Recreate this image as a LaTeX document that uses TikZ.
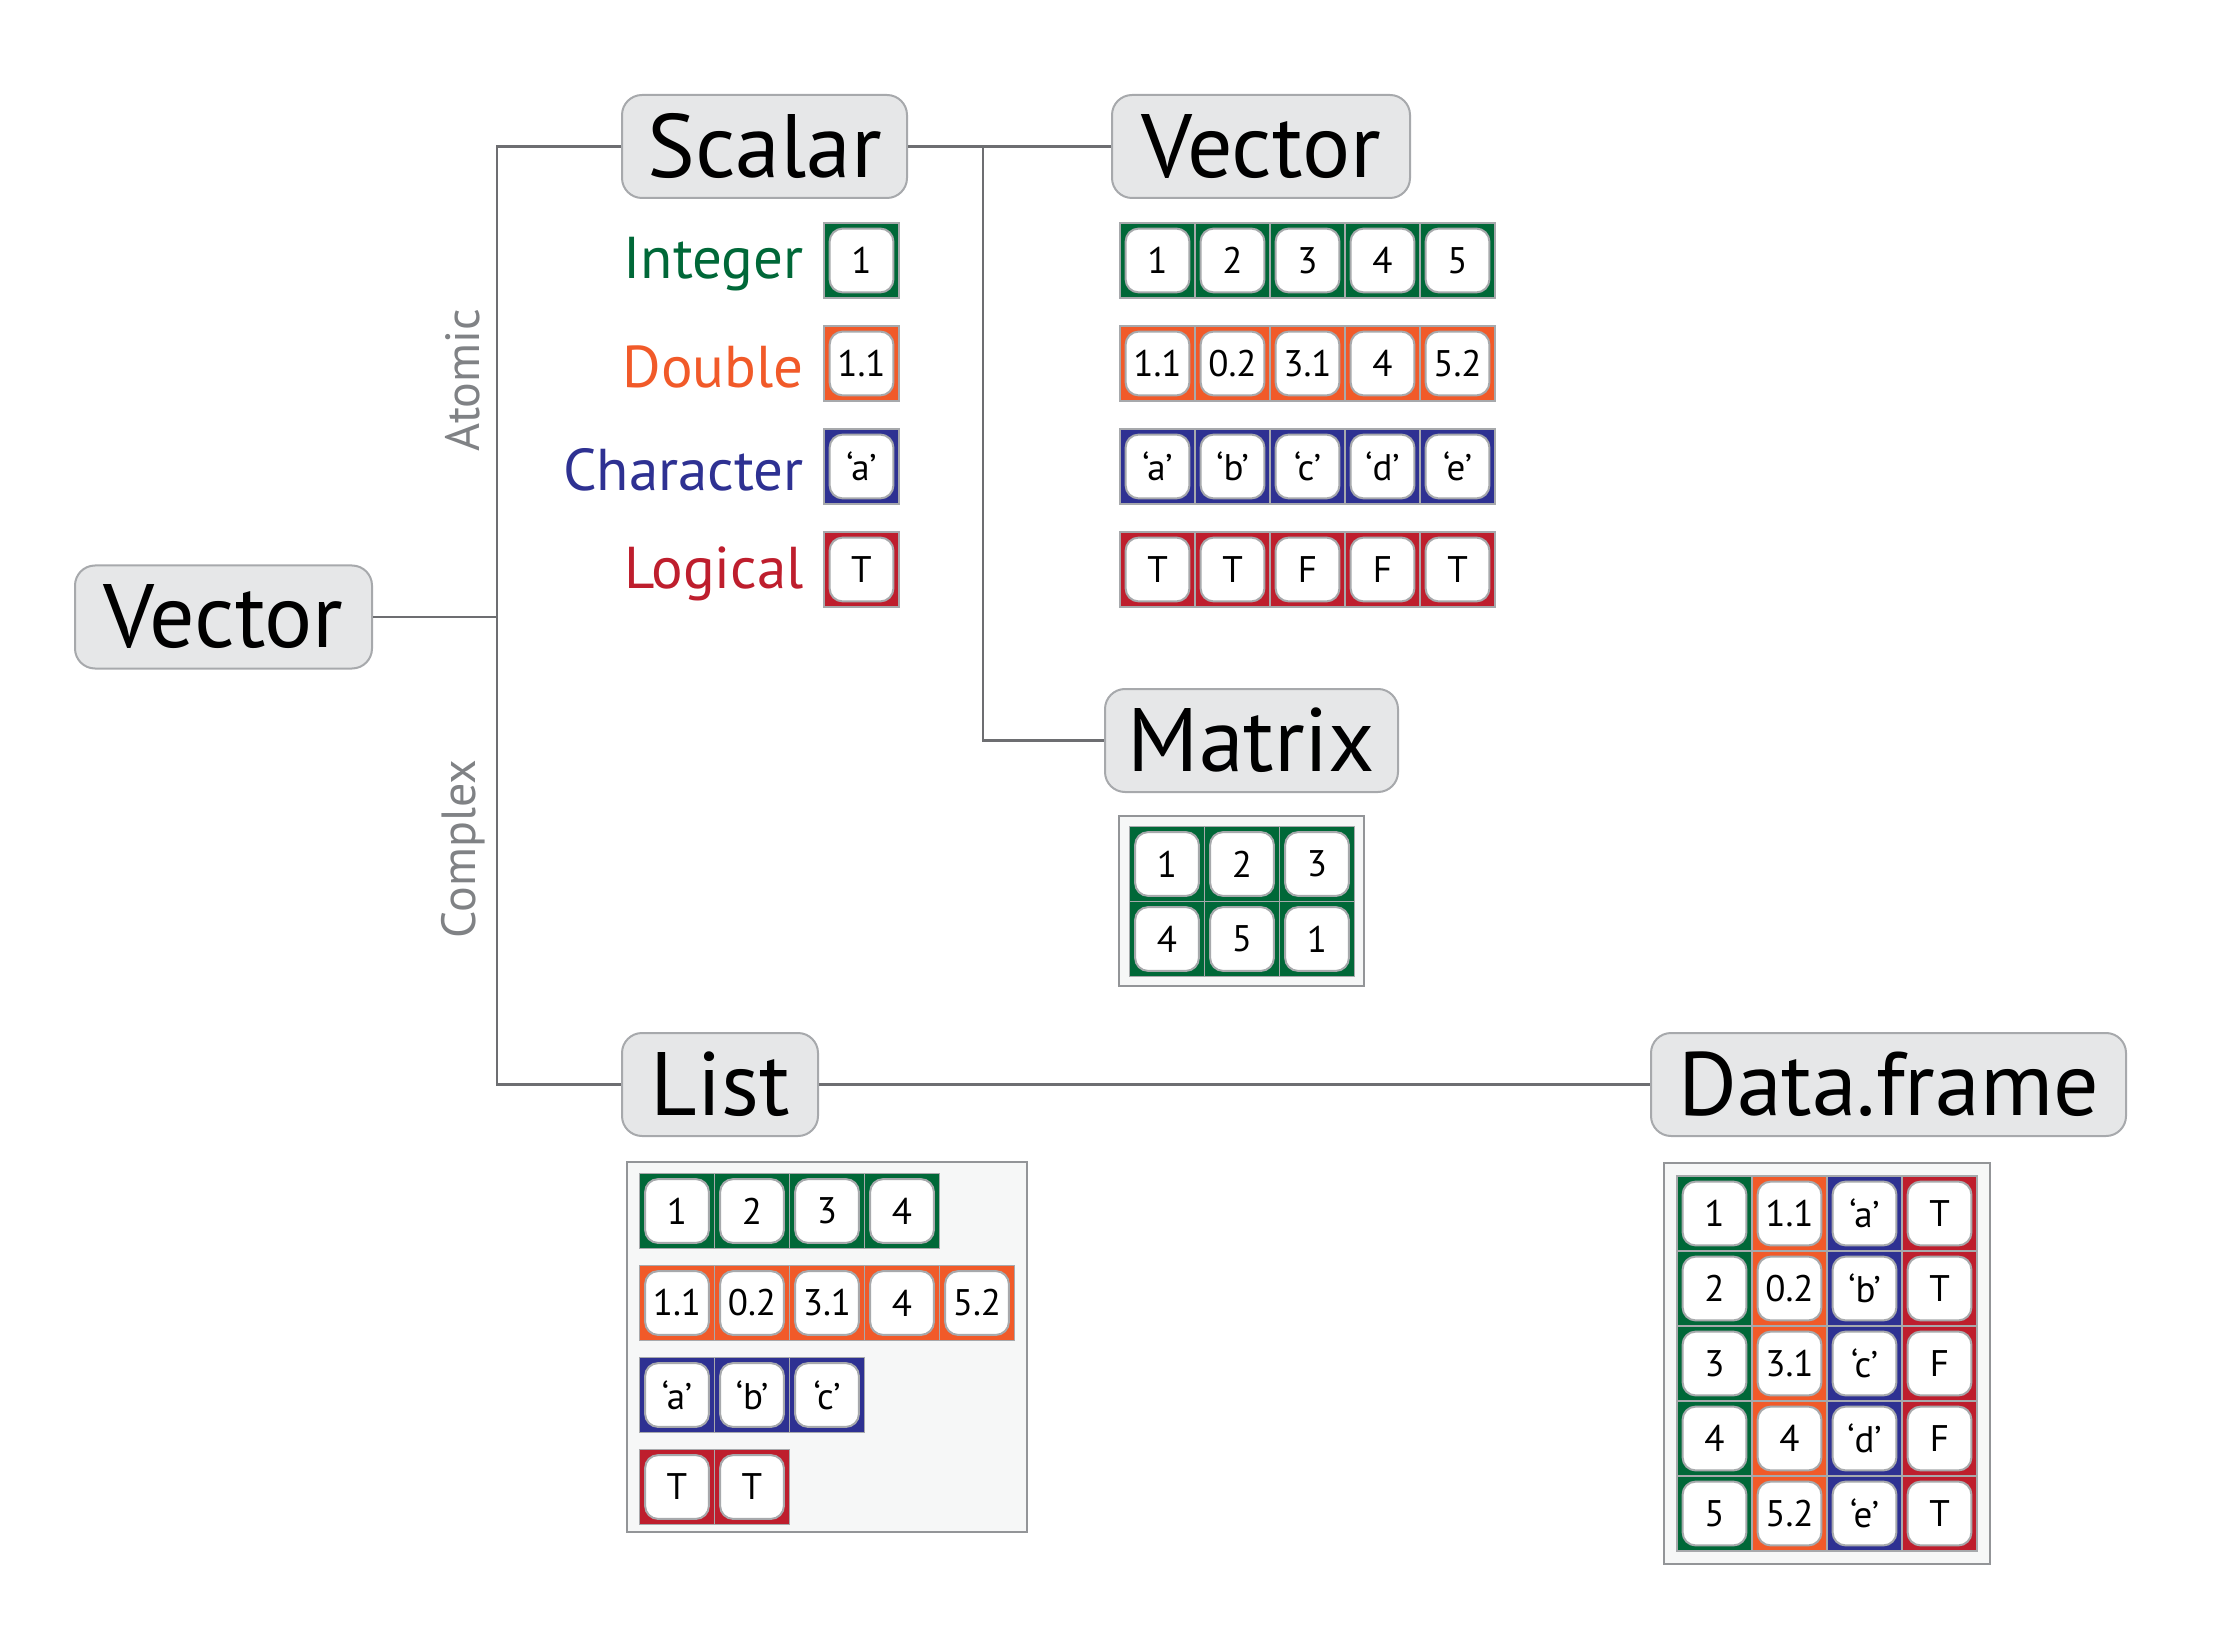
\documentclass[tikz,border=0pt]{standalone}
\usepackage{fontspec}
\setmainfont{PT Sans}
\definecolor{cgreen}{RGB}{0,104,56}
\definecolor{corange}{RGB}{241,90,41}
\definecolor{cblue}{RGB}{46,49,146}
\definecolor{cred}{RGB}{190,30,45}
\definecolor{hdrfill}{RGB}{230,231,232}
\definecolor{hdrline}{RGB}{167,169,172}
\definecolor{conn}{RGB}{109,110,113}
\definecolor{sidegray}{RGB}{128,130,133}
\definecolor{framefill}{RGB}{246,247,247}
\definecolor{frameline}{RGB}{147,149,152}
\definecolor{cellline}{RGB}{167,169,172}
\newcommand\HdrFont{\fontsize{45}{45}\selectfont}
\newcommand\TypeFont{\fontsize{29.5}{29.5}\selectfont}
\newcommand\CellFont{\fontsize{18.5}{18.5}\selectfont}
\newcommand\SideFont{\fontsize{24}{24}\selectfont}
\tikzset{
  hdr/.style={draw=hdrline, fill=hdrfill, line width=1pt, rounded corners=10pt,
    minimum height=51.5pt, inner sep=0pt, font=\HdrFont},
  cellbox/.style={minimum width=37.5pt, minimum height=37.5pt, inner sep=0pt,
    fill=#1, draw=cellline, line width=0.6pt, font=\CellFont,
    path picture={\draw[fill=white, draw=cellline, line width=1pt, rounded corners=6.5pt]
      ([shift={(2.8pt,2.8pt)}]path picture bounding box.south west) rectangle
      ([shift={(-2.8pt,-2.8pt)}]path picture bounding box.north east);}},
  conline/.style={draw=conn, line width=1.1pt},
  framebox/.style={fill=framefill, draw=frameline, line width=1pt},
  typelab/.style={anchor=east, inner sep=0pt, font=\TypeFont},
  sidelab/.style={rotate=90, text=sidegray, font=\SideFont, inner sep=0pt}
}
\begin{document}
\begin{tikzpicture}[x=0.5pt,y=-0.5pt]
\useasboundingbox (0,0) rectangle (2215,1641);
% header boxes
\node[hdr, minimum width=148.5pt] (VL) at (223.5,617) {Vector};
\node[hdr, minimum width=142.5pt] (Sc) at (764.5,146.5) {Scalar};
\node[hdr, minimum width=149pt] (VT) at (1261,146.5) {Vector};
\node[hdr, minimum width=146.5pt] (Mx) at (1251.5,740.5) {Matrix};
\node[hdr, minimum width=98pt] (Li) at (720,1084.5) {List};
\node[hdr, minimum width=237.5pt] (DF) at (1888.5,1084.5) {Data.frame};
% connector coordinates
\coordinate (t1) at (497,146.5);
\coordinate (t2) at (497,1084.5);
\coordinate (b1) at (983,146.5);
\coordinate (b2) at (983,740.5);
\draw[conline] (Sc.west) -- (t1) -- (t2) -- (Li.west);
\draw[conline] (VL.east) -- (VL.east -| t1);
\draw[conline] (Sc.east) -- (VT.west);
\draw[conline] (b1) -- (b2) -- (Mx.west);
\draw[conline] (Li.east) -- (DF.west);
% side labels
\node[sidelab] (atomic) at (463,380) {Atomic};
\node[sidelab] (complex) at (463,849) {Complex};
% scalar types
\node[typelab, text=cgreen] (lint) at (804,264.5) {Integer};
\node[typelab, text=corange] (ldbl) at (804,366.5) {Double};
\node[typelab, text=cblue] (lchr) at (804,469.5) {Character};
\node[typelab, text=cred] (llog) at (804,573.5) {Logical};
\node[cellbox=cgreen] (si) at (861.5,260.5) {1};
\node[cellbox=corange] (sd) at (861.5,363.5) {1.1};
\node[cellbox=cblue] (sc) at (861.5,466.5) {‘a’};
\node[cellbox=cred] (sl) at (861.5,569.5) {T};
% vectors
\foreach \t [count=\i from 0] in {1,2,3,4,5}
  \node[cellbox=cgreen] (vi\i) at (1157.5+75*\i,260.5) {\t};
\foreach \t [count=\i from 0] in {1.1,0.2,3.1,4,5.2}
  \node[cellbox=corange] (vd\i) at (1157.5+75*\i,363.5) {\t};
\foreach \t [count=\i from 0] in {‘a’,‘b’,‘c’,‘d’,‘e’}
  \node[cellbox=cblue] (vc\i) at (1157.5+75*\i,466.5) {\t};
\foreach \t [count=\i from 0] in {T,T,F,F,T}
  \node[cellbox=cred] (vl\i) at (1157.5+75*\i,569.5) {\t};
% matrix
\draw[framebox] (1119,816) rectangle (1364,986);
\foreach \t [count=\i from 0] in {1,2,3}
  \node[cellbox=cgreen] (ma\i) at (1167+75*\i,864) {\t};
\foreach \t [count=\i from 0] in {4,5,1}
  \node[cellbox=cgreen] (mb\i) at (1167+75*\i,939) {\t};
% list
\draw[framebox] (627,1162) rectangle (1027,1532);
\foreach \t [count=\i from 0] in {1,2,3,4}
  \node[cellbox=cgreen] (la\i) at (677+75*\i,1211) {\t};
\foreach \t [count=\i from 0] in {1.1,0.2,3.1,4,5.2}
  \node[cellbox=corange] (lb\i) at (677+75*\i,1303) {\t};
\foreach \t [count=\i from 0] in {‘a’,‘b’,‘c’}
  \node[cellbox=cblue] (lc\i) at (677+75*\i,1395) {\t};
\foreach \t [count=\i from 0] in {T,T}
  \node[cellbox=cred] (ld\i) at (677+75*\i,1487) {\t};
% data frame
\draw[framebox] (1664,1163) rectangle (1990,1564);
\foreach \t [count=\i from 0] in {1,2,3,4,5}
  \node[cellbox=cgreen] (da\i) at (1714.5,1213.5+75*\i) {\t};
\foreach \t [count=\i from 0] in {1.1,0.2,3.1,4,5.2}
  \node[cellbox=corange] (db\i) at (1789.5,1213.5+75*\i) {\t};
\foreach \t [count=\i from 0] in {‘a’,‘b’,‘c’,‘d’,‘e’}
  \node[cellbox=cblue] (dc\i) at (1864.5,1213.5+75*\i) {\t};
\foreach \t [count=\i from 0] in {T,T,F,F,T}
  \node[cellbox=cred] (dd\i) at (1939.5,1213.5+75*\i) {\t};
\end{tikzpicture}
\end{document}
